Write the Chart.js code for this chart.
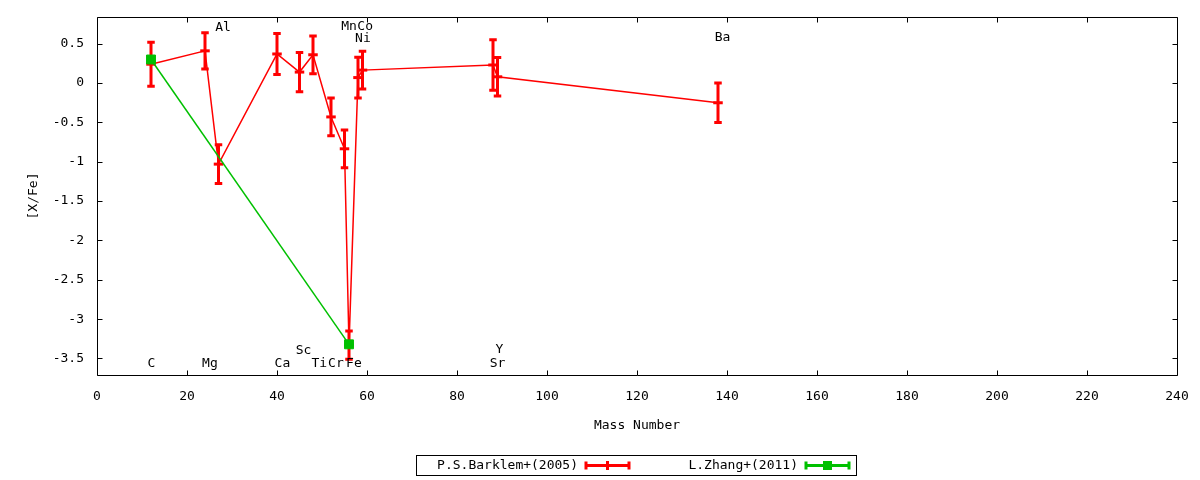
<!DOCTYPE html>
<html>
<head>
<meta charset="utf-8">
<title>[X/Fe] vs Mass Number</title>
<style>
  html, body { margin: 0; padding: 0; background: #ffffff; }
  #wrap { width: 1200px; height: 480px; position: relative; }
</style>
<script src="https://cdn.jsdelivr.net/npm/chart.js@4.4.1/dist/chart.umd.min.js"></script>
</head>
<body>
<div id="wrap"><canvas id="abundanceChart"></canvas></div>
<script>
// Barklem et al. (2005)
const barklemMass = [12, 24, 27, 40, 45, 48, 52, 55, 56, 58, 59, 88, 89, 138];
const barklemXFe = [0.24, 0.41, -1.03, 0.37, 0.14, 0.36, -0.43, -0.835, -3.33, 0.07, 0.165, 0.23, 0.08, -0.25];
const barklemErr = [0.28, 0.23, 0.245, 0.26, 0.25, 0.24, 0.24, 0.24, 0.18, 0.26, 0.24, 0.32, 0.245, 0.25];

// Zhang et al. (2011)
const zhangMass = [12, 56];
const zhangXFe = [0.30, -3.32];
const zhangErr = [0, 0];

// element names written on the plot
const elementNames = ["C", "Mg", "Al", "Ca", "Sc", "Ti", "Cr", "Fe", "Mn", "Co", "Ni", "Sr", "Y", "Ba"];
const elementLabelMass = [12.1, 25.1, 28.0, 41.2, 45.9, 49.4, 53.1, 57.1, 56.0, 59.6, 59.1, 89.0, 89.4, 139.0];
const elementLabelXFe = [-3.56, -3.56, 0.71, -3.56, -3.40, -3.56, -3.56, -3.56, 0.72, 0.72, 0.57, -3.56, -3.39, 0.58];

const xTicks = [0, 20, 40, 60, 80, 100, 120, 140, 160, 180, 200, 220, 240];
const yTicks = [-3.5, -3, -2.5, -2, -1.5, -1, -0.5, 0, 0.5];

const FONT_FAMILY = '"DejaVu Sans Mono", "Liberation Mono", monospace';
const FONT_SIZE = 13;
const RED = "#ff0000";
const GREEN = "#00c000";

function toPoints(xs, ys) {
  return xs.map((x, i) => ({ x: x, y: ys[i] }));
}

// gnuplot style frame with inward ticks on all four sides
const framePlugin = {
  id: "frame",
  beforeDatasetsDraw(chart) {
    const { ctx, chartArea } = chart;
    const xs = chart.scales.x;
    const ys = chart.scales.y;
    const left = Math.round(chartArea.left) + 0.5;
    const right = Math.round(chartArea.right) + 0.5;
    const top = Math.round(chartArea.top) + 0.5;
    const bottom = Math.round(chartArea.bottom) + 0.5;
    const len = 5;

    ctx.save();
    ctx.strokeStyle = "#000000";
    ctx.lineWidth = 1;
    ctx.beginPath();
    ctx.rect(left, top, right - left, bottom - top);

    xTicks.forEach((v) => {
      const px = Math.round(xs.getPixelForValue(v)) + 0.5;
      ctx.moveTo(px, bottom);
      ctx.lineTo(px, bottom - len);
      ctx.moveTo(px, top);
      ctx.lineTo(px, top + len);
    });
    yTicks.forEach((v) => {
      const py = Math.round(ys.getPixelForValue(v)) + 0.5;
      ctx.moveTo(left, py);
      ctx.lineTo(left + len, py);
      ctx.moveTo(right, py);
      ctx.lineTo(right - len, py);
    });
    ctx.stroke();
    ctx.restore();
  },
};

// vertical error bars with caps, drawn right after each dataset
const errorBarPlugin = {
  id: "errorBars",
  afterDatasetDraw(chart, args) {
    const ds = chart.data.datasets[args.index];
    if (!ds.errors) return;
    const ctx = chart.ctx;
    const ys = chart.scales.y;
    const cap = 3.75;

    ctx.save();
    ctx.strokeStyle = ds.borderColor;
    ctx.lineWidth = 3;
    ds.errors.forEach((err, i) => {
      if (!err) return;
      const pt = args.meta.data[i];
      const v = ds.data[i].y;
      const top = ys.getPixelForValue(v + err);
      const bot = ys.getPixelForValue(v - err);
      ctx.beginPath();
      ctx.moveTo(pt.x, top);
      ctx.lineTo(pt.x, bot);
      ctx.moveTo(pt.x - cap, top);
      ctx.lineTo(pt.x + cap, top);
      ctx.moveTo(pt.x - cap, bot);
      ctx.lineTo(pt.x + cap, bot);
      ctx.stroke();
    });
    ctx.restore();
  },
};

const elementLabelPlugin = {
  id: "elementLabels",
  afterDatasetsDraw(chart) {
    const { ctx } = chart;
    const xs = chart.scales.x;
    const ys = chart.scales.y;
    ctx.save();
    ctx.fillStyle = "#000000";
    ctx.font = FONT_SIZE + "px " + FONT_FAMILY;
    ctx.textAlign = "center";
    ctx.textBaseline = "middle";
    elementNames.forEach((name, i) => {
      ctx.fillText(name, xs.getPixelForValue(elementLabelMass[i]), ys.getPixelForValue(elementLabelXFe[i]));
    });
    ctx.restore();
  },
};

// key box below the plot: text first, then the line sample
const keyPlugin = {
  id: "gnuKey",
  afterDraw(chart) {
    const { ctx } = chart;
    const boxLeft = 416.5;
    const boxTop = 455.5;
    const boxWidth = 440;
    const boxHeight = 20;
    const entryWidth = 220;
    const midY = boxTop + boxHeight / 2;

    ctx.save();
    ctx.strokeStyle = "#000000";
    ctx.lineWidth = 1;
    ctx.strokeRect(boxLeft, boxTop, boxWidth, boxHeight);

    ctx.font = FONT_SIZE + "px " + FONT_FAMILY;
    ctx.textAlign = "right";
    ctx.textBaseline = "middle";

    chart.data.datasets.forEach((ds, i) => {
      const textRight = boxLeft + 161.5 + i * entryWidth;
      ctx.fillStyle = "#000000";
      ctx.fillText(ds.label, textRight, midY);

      const x0 = textRight + 8;
      const x1 = textRight + 51;
      ctx.strokeStyle = ds.borderColor;
      ctx.lineWidth = 3;
      ctx.beginPath();
      ctx.moveTo(x0, midY);
      ctx.lineTo(x1, midY);
      ctx.moveTo(x0, midY - 4);
      ctx.lineTo(x0, midY + 4);
      ctx.moveTo(x1, midY - 4);
      ctx.lineTo(x1, midY + 4);
      ctx.stroke();

      const xm = (x0 + x1) / 2;
      if (ds.pointStyle === "line") {
        ctx.beginPath();
        ctx.moveTo(xm, midY - 4.5);
        ctx.lineTo(xm, midY + 4.5);
        ctx.stroke();
      } else {
        ctx.fillStyle = ds.borderColor;
        ctx.fillRect(xm - 4.5, midY - 4.5, 9, 9);
      }
    });
    ctx.restore();
  },
};

const ctx = document.getElementById("abundanceChart").getContext("2d");

new Chart(ctx, {
  type: "line",
  data: {
    datasets: [
      {
        label: "P.S.Barklem+(2005)",
        data: toPoints(barklemMass, barklemXFe),
        errors: barklemErr,
        borderColor: RED,
        backgroundColor: RED,
        borderWidth: 1.5,
        tension: 0,
        pointStyle: "line",
        pointRadius: 4.75,
        pointBorderWidth: 3,
        pointBorderColor: RED,
        order: 2,
      },
      {
        label: "L.Zhang+(2011)",
        data: toPoints(zhangMass, zhangXFe),
        errors: zhangErr,
        borderColor: GREEN,
        backgroundColor: GREEN,
        borderWidth: 1.5,
        tension: 0,
        pointStyle: "rect",
        pointRadius: 6.3,
        pointBorderWidth: 1,
        pointBackgroundColor: GREEN,
        pointBorderColor: GREEN,
        order: 1,
      },
    ],
  },
  options: {
    responsive: true,
    maintainAspectRatio: false,
    animation: false,
    devicePixelRatio: 1,
    layout: {
      padding: { left: 0, right: 23, top: 17, bottom: 0 },
    },
    plugins: {
      legend: { display: false },
      tooltip: { enabled: false },
    },
    scales: {
      x: {
        type: "linear",
        min: 0,
        max: 240,
        afterBuildTicks: (scale) => {
          scale.ticks = xTicks.map((v) => ({ value: v }));
        },
        afterFit: (scale) => {
          scale.height = 105;
          scale.paddingLeft = 0;
          scale.paddingRight = 0;
        },
        grid: { display: false, drawTicks: false },
        border: { display: false },
        ticks: {
          color: "#000000",
          padding: 14,
          maxRotation: 0,
          autoSkip: false,
          font: { family: FONT_FAMILY, size: FONT_SIZE },
          callback: (v) => String(v),
        },
        title: {
          display: true,
          text: "Mass Number",
          color: "#000000",
          font: { family: FONT_FAMILY, size: FONT_SIZE },
          padding: { top: 0, bottom: 47 },
        },
      },
      y: {
        type: "linear",
        min: -3.71,
        max: 0.84,
        afterBuildTicks: (scale) => {
          scale.ticks = yTicks.map((v) => ({ value: v }));
        },
        afterFit: (scale) => {
          scale.width = 97;
          scale.paddingTop = 0;
          scale.paddingBottom = 0;
        },
        grid: { display: false, drawTicks: false },
        border: { display: false },
        ticks: {
          color: "#000000",
          padding: 13,
          autoSkip: false,
          font: { family: FONT_FAMILY, size: FONT_SIZE },
          callback: (v) => String(v),
        },
        title: {
          display: true,
          text: "[X/Fe]",
          color: "#000000",
          font: { family: FONT_FAMILY, size: FONT_SIZE },
          padding: { top: 26, bottom: 0 },
        },
      },
    },
  },
  plugins: [framePlugin, errorBarPlugin, elementLabelPlugin, keyPlugin],
});
</script>
</body>
</html>
